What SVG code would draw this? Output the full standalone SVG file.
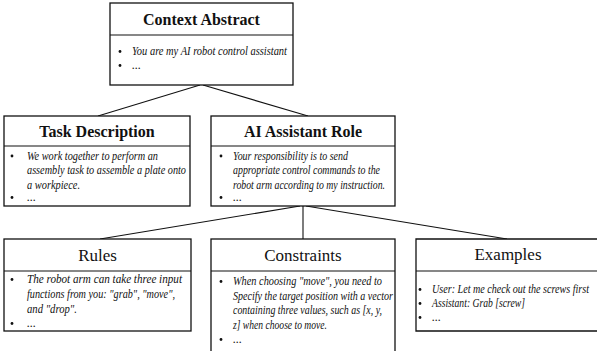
<svg xmlns="http://www.w3.org/2000/svg" width="597" height="351" viewBox="0 0 597 351">
<defs>
<style>
.box{fill:#fff;stroke:#111;stroke-width:1.3}
.edge{fill:none;stroke:#111;stroke-width:1.3}
.div{stroke:#111;stroke-width:1.1}
.conn{stroke:#111;stroke-width:1.1;fill:none}
.t1{font-family:"Liberation Serif","Times New Roman","DejaVu Serif",serif;font-size:16px;font-weight:bold;text-anchor:middle;fill:#111}
.t2{font-family:"Liberation Serif","Times New Roman","DejaVu Serif",serif;font-size:17px;text-anchor:middle;fill:#111}
.b{font-family:"Liberation Serif","Times New Roman","DejaVu Serif",serif;font-size:12px;font-style:italic;fill:#111}
.dot{fill:#111}
</style>
</defs>
<rect width="597" height="351" fill="#fff"/>
<g id="connectors">
<line class="conn" x1="200" y1="85" x2="98" y2="116"/>
<line class="conn" x1="203" y1="85" x2="308" y2="116"/>
<line class="conn" x1="300" y1="206" x2="100" y2="239"/>
<line class="conn" x1="303" y1="206" x2="303" y2="239"/>
<line class="conn" x1="306" y1="206" x2="507" y2="239"/>
</g>
<g id="context-abstract">
<rect class="box" x="110" y="3" width="183" height="82"/>
<line class="div" x1="110" y1="35" x2="293" y2="35"/>
<text class="t1" x="201.5" y="25">Context Abstract</text>
<circle class="dot" cx="120" cy="51.5" r="1.4"/>
<text class="b" x="132" y="55" textLength="155" lengthAdjust="spacingAndGlyphs">You are my AI robot control assistant</text>
<circle class="dot" cx="120" cy="65.5" r="1.4"/>
<text class="b" x="132" y="69">...</text>
</g>
<g id="task-description">
<rect class="box" x="4" y="116" width="186" height="90"/>
<line class="div" x1="4" y1="146" x2="190" y2="146"/>
<text class="t1" x="97" y="137">Task Description</text>
<circle class="dot" cx="12" cy="156" r="1.4"/>
<text class="b" x="27" y="159.5" textLength="131" lengthAdjust="spacingAndGlyphs">We work together to perform an</text>
<text class="b" x="27" y="174" textLength="159" lengthAdjust="spacingAndGlyphs">assembly task to assemble a plate onto</text>
<text class="b" x="27" y="188.5" textLength="53" lengthAdjust="spacingAndGlyphs">a workpiece.</text>
<circle class="dot" cx="12" cy="197.5" r="1.4"/>
<text class="b" x="27" y="201">...</text>
</g>
<g id="ai-assistant-role">
<rect class="box" x="211" y="116" width="184" height="90"/>
<line class="div" x1="211" y1="146" x2="395" y2="146"/>
<text class="t1" x="303" y="137">AI Assistant Role</text>
<circle class="dot" cx="221" cy="156" r="1.4"/>
<text class="b" x="233" y="159.5" textLength="115" lengthAdjust="spacingAndGlyphs">Your responsibility is to send</text>
<text class="b" x="233" y="174" textLength="147" lengthAdjust="spacingAndGlyphs">appropriate control commands to the</text>
<text class="b" x="233" y="188.5" textLength="152" lengthAdjust="spacingAndGlyphs">robot arm according to my instruction.</text>
<circle class="dot" cx="221" cy="197.5" r="1.4"/>
<text class="b" x="233" y="201">...</text>
</g>
<g id="rules">
<rect class="box" x="4" y="239" width="187" height="92"/>
<line class="div" x1="4" y1="271" x2="191" y2="271"/>
<text class="t2" x="97.5" y="261">Rules</text>
<circle class="dot" cx="12" cy="279.5" r="1.4"/>
<text class="b" x="27" y="283" textLength="155" lengthAdjust="spacingAndGlyphs">The robot arm can take three input</text>
<text class="b" x="27" y="298" textLength="148" lengthAdjust="spacingAndGlyphs">functions from you: "grab", "move",</text>
<text class="b" x="27" y="313" textLength="50" lengthAdjust="spacingAndGlyphs">and "drop".</text>
<circle class="dot" cx="12" cy="323.5" r="1.4"/>
<text class="b" x="27" y="327">...</text>
</g>
<g id="constraints">
<rect class="box" x="211" y="239" width="184" height="125"/>
<line class="div" x1="211" y1="271" x2="395" y2="271"/>
<text class="t2" x="303" y="261">Constraints</text>
<circle class="dot" cx="221" cy="281.5" r="1.4"/>
<text class="b" x="233" y="285" textLength="149" lengthAdjust="spacingAndGlyphs">When choosing "move", you need to</text>
<text class="b" x="233" y="299.5" textLength="160" lengthAdjust="spacingAndGlyphs">Specify the target position with a vector</text>
<text class="b" x="233" y="314" textLength="149" lengthAdjust="spacingAndGlyphs">containing three values, such as [x, y,</text>
<text class="b" x="233" y="328.5" textLength="94" lengthAdjust="spacingAndGlyphs">z] when choose to move.</text>
<circle class="dot" cx="221" cy="339.5" r="1.4"/>
<text class="b" x="233" y="343">...</text>
</g>
<g id="examples">
<rect x="416" y="239" width="181" height="92" fill="#fff"/>
<path class="edge" d="M597,239 H416 V331 H597"/>
<line class="div" x1="416" y1="271" x2="597" y2="271"/>
<text class="t2" x="508" y="260">Examples</text>
<circle class="dot" cx="420" cy="289.5" r="1.4"/>
<text class="b" x="432" y="293" textLength="157" lengthAdjust="spacingAndGlyphs">User: Let me check out the screws first</text>
<circle class="dot" cx="420" cy="303.5" r="1.4"/>
<text class="b" x="432" y="307" textLength="93" lengthAdjust="spacingAndGlyphs">Assistant: Grab [screw]</text>
<circle class="dot" cx="420" cy="317.5" r="1.4"/>
<text class="b" x="432" y="321">...</text>
</g>
</svg>
